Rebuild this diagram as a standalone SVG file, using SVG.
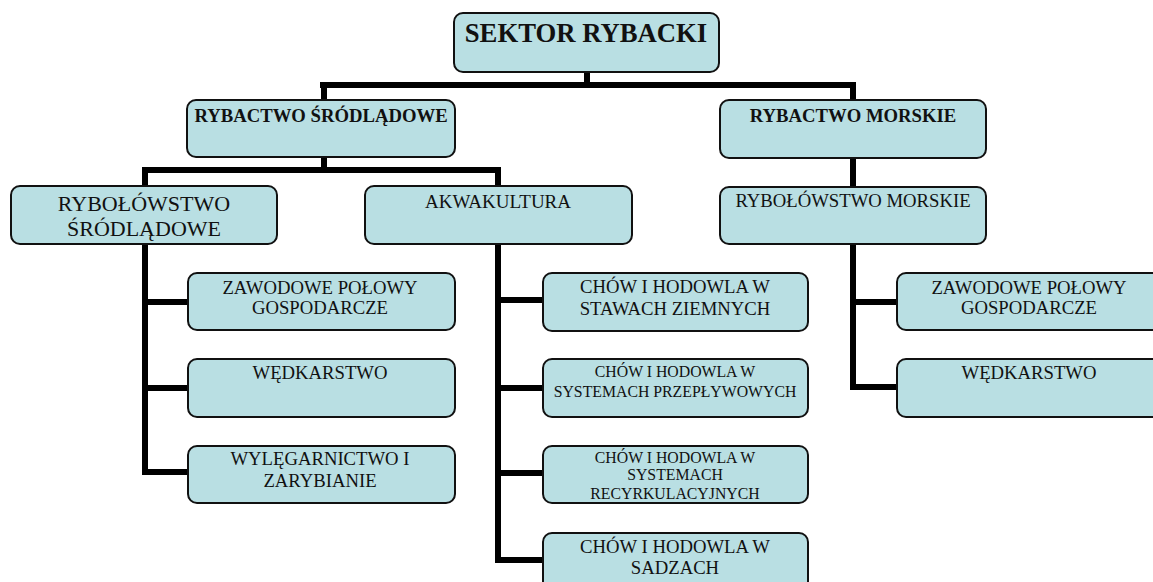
<svg xmlns="http://www.w3.org/2000/svg" width="1153" height="582" viewBox="0 0 1153 582">
<style>
.box{fill:#b9dfe3;stroke:#111;stroke-width:2}
.t{font-family:'Liberation Serif',Tinos,'DejaVu Serif',serif;fill:#111;text-anchor:middle}
.b{font-weight:bold}
.m{font-size:18.7px}
.s{font-size:15.8px}
.c{fill:none;stroke:#000;stroke-width:6;stroke-linejoin:miter;stroke-linecap:butt}
</style>
<rect width="1153" height="582" fill="#fff"/>
<g id="connectors">
<path class="c" d="M587,72 V85 M320,85 H856 M324,82 V100 M853,82 V100 M324,157 V170 M142,170 H501 M145,167 V186 M498,167 V186 M853,158 V187"/>
<path class="c" d="M145,244 V472 H188 M142,302 H188 M142,388 H188"/>
<path class="c" d="M498,244 V560 H543 M495,300 H543 M495,388 H543 M495,473 H543"/>
<path class="c" d="M853,244 V387 H897 M850,302 H897"/>
</g>
<g id="n-sektor"><rect class="box" x="454" y="13" width="265" height="59" rx="9"/><text class="t b" x="586" y="42" font-size="26.7">SEKTOR RYBACKI</text></g>
<g id="n-srodladowe"><rect class="box" x="187" y="100" width="268" height="57" rx="9"/><text class="t b m" x="321" y="122">RYBACTWO ŚRÓDLĄDOWE</text></g>
<g id="n-morskie"><rect class="box" x="720" y="100" width="266" height="58" rx="9"/><text class="t b m" x="853" y="122">RYBACTWO MORSKIE</text></g>
<g id="n-rybol-srod"><rect class="box" x="11" y="186" width="266" height="58" rx="9"/><text class="t" x="144" y="211" font-size="22">RYBOŁÓWSTWO</text><text class="t" x="144" y="236" font-size="22">ŚRÓDLĄDOWE</text></g>
<g id="n-akwakultura"><rect class="box" x="365" y="186" width="267" height="58" rx="9"/><text class="t" x="498" y="208" font-size="19">AKWAKULTURA</text></g>
<g id="n-rybol-morskie"><rect class="box" x="720" y="187" width="266" height="57" rx="9"/><text class="t m" x="853" y="207">RYBOŁÓWSTWO MORSKIE</text></g>
<g id="n-zawodowe-l"><rect class="box" x="188" y="273" width="267" height="57" rx="9"/><text class="t m" x="320" y="294">ZAWODOWE POŁOWY</text><text class="t m" x="320" y="314">GOSPODARCZE</text></g>
<g id="n-wedkarstwo-l"><rect class="box" x="188" y="359" width="267" height="58" rx="9"/><text class="t m" x="320" y="379">WĘDKARSTWO</text></g>
<g id="n-wyleg"><rect class="box" x="188" y="446" width="267" height="57" rx="9"/><text class="t m" x="320" y="465">WYLĘGARNICTWO I</text><text class="t m" x="320" y="487">ZARYBIANIE</text></g>
<g id="n-stawy"><rect class="box" x="543" y="273" width="265" height="58" rx="9"/><text class="t m" x="675" y="293">CHÓW I HODOWLA W</text><text class="t m" x="675" y="315">STAWACH ZIEMNYCH</text></g>
<g id="n-przeplyw"><rect class="box" x="543" y="359" width="265" height="58" rx="9"/><text class="t s" x="675" y="377">CHÓW I HODOWLA W</text><text class="t s" x="675" y="397">SYSTEMACH PRZEPŁYWOWYCH</text></g>
<g id="n-recyrk"><rect class="box" x="543" y="446" width="265" height="57" rx="9"/><text class="t s" x="675" y="463">CHÓW I HODOWLA W</text><text class="t s" x="675" y="480">SYSTEMACH</text><text class="t s" x="675" y="499">RECYRKULACYJNYCH</text></g>
<g id="n-sadze"><rect class="box" x="543" y="533" width="265" height="58" rx="9"/><text class="t m" x="675" y="553">CHÓW I HODOWLA W</text><text class="t m" x="675" y="574">SADZACH</text></g>
<g id="n-zawodowe-r"><rect class="box" x="897" y="273" width="265" height="57" rx="9"/><text class="t m" x="1029" y="294">ZAWODOWE POŁOWY</text><text class="t m" x="1029" y="314">GOSPODARCZE</text></g>
<g id="n-wedkarstwo-r"><rect class="box" x="897" y="359" width="265" height="58" rx="9"/><text class="t m" x="1029" y="379">WĘDKARSTWO</text></g>
</svg>
